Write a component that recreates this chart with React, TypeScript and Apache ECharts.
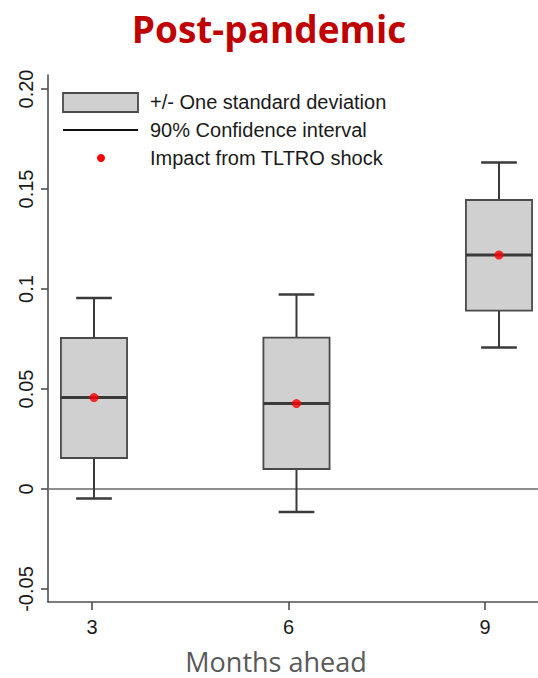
import React, { useEffect, useRef } from "react";
import * as echarts from "echarts";

// ---- data ----
const xPositions = [3, 6, 9];
const xTickLabels = ["3", "6", "9"];
const whiskerLow = [-0.0047, -0.0115, 0.0708];
const boxLow = [0.0155, 0.01, 0.0892];
const medians = [0.0457, 0.0427, 0.117];
const boxHigh = [0.0755, 0.0757, 0.1445];
const whiskerHigh = [0.0955, 0.0973, 0.1632];
const impact = [0.0457, 0.0427, 0.117];
const yTickValues = [-0.05, 0, 0.05, 0.1, 0.15, 0.2];
const yTickLabels = ["-0.05", "0", "0.05", "0.1", "0.15", "0.20"];
const legendLabels = [
  "+/- One standard deviation",
  "90% Confidence interval",
  "Impact from TLTRO shock",
];

const AXIS_COLOR = "#505050";
const TEXT_COLOR = "#1a1a1a";
const FONT = "'Liberation Sans', Arial, sans-serif";

export default function App() {
  const ref = useRef<HTMLDivElement>(null);

  useEffect(() => {
    if (!ref.current) return;
    const chart = echarts.init(ref.current, null, { renderer: "svg" });

    const boxData = xPositions.map((x, i) => [
      x,
      whiskerLow[i],
      boxLow[i],
      medians[i],
      boxHigh[i],
      whiskerHigh[i],
    ]);
    const dotData = xPositions.map((x, i) => [x, impact[i]]);

    const renderItem = (params: any, api: any) => {
      const x = api.value(0);
      const pLo = api.coord([x, api.value(1)]);
      const pQ1 = api.coord([x, api.value(2)]);
      const pMed = api.coord([x, api.value(3)]);
      const pQ3 = api.coord([x, api.value(4)]);
      const pHi = api.coord([x, api.value(5)]);
      const w = api.size([0.98, 0])[0];
      const half = w / 2;
      const cap = w * 0.27;
      const cx = pMed[0];
      const wStyle = { stroke: "#3a3a3a", lineWidth: 2 };
      return {
        type: "group",
        children: [
          { type: "line", shape: { x1: cx, y1: pHi[1], x2: cx, y2: pQ3[1] }, style: wStyle },
          { type: "line", shape: { x1: cx, y1: pQ1[1], x2: cx, y2: pLo[1] }, style: wStyle },
          { type: "line", shape: { x1: cx - cap, y1: pHi[1], x2: cx + cap, y2: pHi[1] }, style: { stroke: "#3a3a3a", lineWidth: 2.5 } },
          { type: "line", shape: { x1: cx - cap, y1: pLo[1], x2: cx + cap, y2: pLo[1] }, style: { stroke: "#3a3a3a", lineWidth: 2.5 } },
          {
            type: "rect",
            shape: { x: cx - half, y: pQ3[1], width: w, height: pQ1[1] - pQ3[1] },
            style: { fill: "#d0d0d0", stroke: "#4a4a4a", lineWidth: 1.8 },
          },
          { type: "line", shape: { x1: cx - half, y1: pMed[1], x2: cx + half, y2: pMed[1] }, style: { stroke: "#3a3a3a", lineWidth: 3 } },
        ],
      };
    };

    chart.setOption({
      animation: false,
      backgroundColor: "#ffffff",
      title: {
        text: "Post-pandemic",
        left: "center",
        top: 1,
        textStyle: {
          fontFamily: "'Open Sans', sans-serif",
          fontWeight: "bold",
          fontSize: 37,
          lineHeight: 44,
          color: "#C00000",
        },
      },
      grid: { left: 48, right: 0, top: 75, bottom: 76, containLabel: false },
      xAxis: [
        {
          type: "value",
          min: 2.3185,
          max: 9.578,
          show: false,
          position: "bottom",
        },
        {
          type: "value",
          min: 2.3282,
          max: 9.809,
          position: "bottom",
          axisLine: { show: true, onZero: false, lineStyle: { color: AXIS_COLOR, width: 1.6 } },
          axisTick: { show: true, length: 8, customValues: xPositions, lineStyle: { color: AXIS_COLOR, width: 1.6 } },
          axisLabel: {
            customValues: xPositions,
            margin: 15,
            fontSize: 20,
            fontFamily: FONT,
            color: TEXT_COLOR,
            formatter: (v: number) => {
              const i = xPositions.indexOf(Math.round(v));
              return i >= 0 ? xTickLabels[i] : "";
            },
          },
          splitLine: { show: false },
        },
      ],
      yAxis: {
        type: "value",
        min: -0.0565,
        max: 0.207,
        axisLine: { show: true, onZero: false, lineStyle: { color: AXIS_COLOR, width: 1.6 } },
        axisTick: { show: true, length: 7, customValues: yTickValues, lineStyle: { color: AXIS_COLOR, width: 1.6 } },
        axisLabel: {
          customValues: yTickValues,
          rotate: 90,
          margin: 12,
          fontSize: 20,
          fontFamily: FONT,
          color: TEXT_COLOR,
          formatter: (v: number) => {
            const i = yTickValues.findIndex((t) => Math.abs(t - v) < 1e-6);
            return i >= 0 ? yTickLabels[i] : "";
          },
        },
        splitLine: { show: false },
      },
      series: [
        {
          type: "custom",
          xAxisIndex: 0,
          renderItem,
          encode: { x: 0, y: [1, 2, 3, 4, 5] },
          data: boxData,
          silent: true,
          z: 3,
        },
        {
          type: "scatter",
          xAxisIndex: 0,
          data: dotData,
          symbol: "circle",
          symbolSize: 9,
          itemStyle: { color: "#ff0000" },
          silent: true,
          z: 5,
          markLine: {
            silent: true,
            symbol: ["none", "none"],
            label: { show: false },
            lineStyle: { color: "#6a6a6a", width: 1.6, type: "solid" },
            data: [{ yAxis: 0 }],
            z: 1,
          },
        },
      ],
      graphic: [
        {
          type: "rect",
          shape: { x: 63, y: 93, width: 75, height: 19 },
          style: { fill: "#d0d0d0", stroke: "#4a4a4a", lineWidth: 1.8 },
        },
        {
          type: "line",
          shape: { x1: 63, y1: 130, x2: 138, y2: 130 },
          style: { stroke: "#111111", lineWidth: 2 },
        },
        {
          type: "circle",
          shape: { cx: 101, cy: 158, r: 4 },
          style: { fill: "#ff0000" },
        },
        ...legendLabels.map((t, i) => ({
          type: "text",
          x: 150,
          y: 102 + i * 28,
          style: {
            text: t,
            fontSize: 20,
            fontFamily: FONT,
            fill: TEXT_COLOR,
            textVerticalAlign: "middle",
            textAlign: "left",
          },
        })),
        {
          type: "text",
          x: 276,
          y: 661,
          style: {
            text: "Months ahead",
            fontSize: 27,
            fontFamily: "'Open Sans', sans-serif",
            fill: "#595959",
            textAlign: "center",
            textVerticalAlign: "middle",
          },
        },
      ],
    });

    return () => chart.dispose();
  }, []);

  return (
    <div
      ref={ref}
      style={{ position: "absolute", left: 0, top: 0, width: 538, height: 678 }}
    />
  );
}
